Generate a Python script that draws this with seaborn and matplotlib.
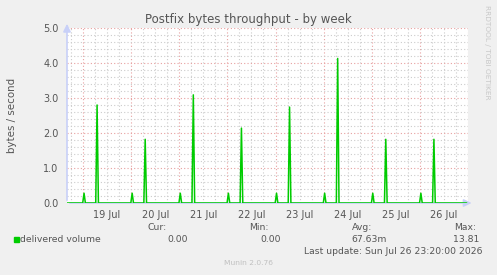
import pandas as pd
import seaborn as sns
import matplotlib.pyplot as plt
import matplotlib.dates as mdates
from matplotlib.ticker import MultipleLocator, FuncFormatter

# Spikes (time, bytes/second)
small_times = ["2026-07-19 00:30", "2026-07-20 00:30", "2026-07-21 00:30", "2026-07-22 00:30",
               "2026-07-23 00:30", "2026-07-24 00:30", "2026-07-25 00:30", "2026-07-26 00:30"]
small_values = [0.28, 0.28, 0.28, 0.28, 0.28, 0.28, 0.28, 0.28]
big_times = ["2026-07-19 07:00", "2026-07-20 07:00", "2026-07-21 07:00", "2026-07-22 07:00",
             "2026-07-23 07:00", "2026-07-24 07:00", "2026-07-25 07:00", "2026-07-26 07:00"]
big_values = [2.80, 1.82, 3.09, 2.14, 2.74, 4.13, 1.82, 1.82]

start = pd.Timestamp("2026-07-18 16:00")
end = pd.Timestamp("2026-07-27 00:00")
last = pd.Timestamp("2026-07-26 23:20")

# build the series: zero baseline with one sample per spike
rows = [(start, 0.0), (last, 0.0)]
half = pd.Timedelta(minutes=40)
for t, v in zip(small_times + big_times, small_values + big_values):
    t = pd.Timestamp(t)
    rows += [(t - half, 0.0), (t, v), (t + half, 0.0)]
df = pd.DataFrame(rows, columns=["time", "value"]).sort_values("time")

sns.set_style("white")
plt.rcParams["font.family"] = ["DejaVu Sans"]
txt = "#555555"
fs = 6.7

fig = plt.figure(figsize=(4.97, 2.75), dpi=100, facecolor="#f0f0f0")
ax = fig.add_axes([67 / 497, 1 - 203 / 275, (468 - 67) / 497, (203 - 28) / 275])
ax.set_facecolor("white")

sns.lineplot(data=df, x="time", y="value", ax=ax, color="#00cc00", linewidth=1.1,
             estimator=None, sort=True, zorder=5)

ax.set_xlim(start, end)
ax.set_ylim(0, 5.0)

# grid: red major, grey minor, dotted
ax.xaxis.set_major_locator(mdates.HourLocator(byhour=[0]))
ax.xaxis.set_minor_locator(mdates.HourLocator(byhour=[6, 12, 18]))
ax.xaxis.set_major_formatter(FuncFormatter(lambda x, p: ""))
ax.xaxis.set_minor_formatter(FuncFormatter(
    lambda x, p: mdates.num2date(x).strftime("%d %b") if mdates.num2date(x).hour == 12 else ""))
ax.yaxis.set_major_locator(MultipleLocator(1.0))
ax.yaxis.set_minor_locator(MultipleLocator(0.2))
ax.yaxis.set_major_formatter(FuncFormatter(lambda y, p: f"{y:.1f}"))

dots = (0, (1, 2))
ax.grid(which="major", color="#e8a0a0", linestyle=dots, linewidth=0.8)
ax.grid(which="minor", color="#cccccc", linestyle=dots, linewidth=0.8)
ax.set_axisbelow(True)

ax.tick_params(axis="x", which="major", length=2, color="#e8a0a0", labelsize=7.0)
ax.tick_params(axis="x", which="minor", length=2, color="#cccccc", labelsize=7.0,
               labelcolor=txt, pad=3)
ax.tick_params(axis="y", which="major", length=2, color="#e8a0a0", labelsize=7.0,
               labelcolor=txt, pad=4)
ax.tick_params(axis="y", which="minor", length=0)

for s in ax.spines.values():
    s.set_visible(False)
axis_col = "#c8d0f8"
ax.annotate("", xy=(0, 1.04), xytext=(0, 0), xycoords="axes fraction",
            arrowprops=dict(arrowstyle="-|>,head_length=0.45,head_width=0.22", color=axis_col, lw=1.2),
            annotation_clip=False)
ax.annotate("", xy=(1.016, 0), xytext=(0, 0), xycoords="axes fraction",
            arrowprops=dict(arrowstyle="-|>,head_length=0.45,head_width=0.22", color=axis_col, lw=1.2),
            annotation_clip=False)

ax.set_xlabel("")
ax.set_ylabel("")

W, H = 497, 275
def put(x, y, s, **kw):
    fig.text(x / W, 1 - y / H, s, **kw)

put(248, 20, "Postfix bytes throughput - by week", ha="center", va="center", fontsize=8.5, color=txt)
put(12, 115, "bytes / second", ha="center", va="center", rotation=90, fontsize=7.4, color=txt)
put(487, 5, "RRDTOOL / TOBI OETIKER", ha="center", va="top", rotation=270, fontsize=5.3, color="#c8c8c8")

put(167, 227, "Cur:", ha="right", va="center", fontsize=fs, color=txt)
put(269, 227, "Min:", ha="right", va="center", fontsize=fs, color=txt)
put(372, 227, "Avg:", ha="right", va="center", fontsize=fs, color=txt)
put(476, 227, "Max:", ha="right", va="center", fontsize=fs, color=txt)

fig.patches.append(plt.Rectangle((14 / W, 1 - 242 / H), 5 / W, 5 / H, transform=fig.transFigure,
                                 color="#00cc00"))
put(20, 239, "delivered volume", ha="left", va="center", fontsize=fs, color=txt)
put(188, 239, "0.00", ha="right", va="center", fontsize=fs, color=txt)
put(281, 239, "0.00", ha="right", va="center", fontsize=fs, color=txt)
put(387, 239, "67.63m", ha="right", va="center", fontsize=fs, color=txt)
put(479, 239, "13.81", ha="right", va="center", fontsize=fs, color=txt)
put(482, 251, "Last update: Sun Jul 26 23:20:00 2026", ha="right", va="center", fontsize=fs, color=txt)
put(248, 263, "Munin 2.0.76", ha="center", va="center", fontsize=5.4, color="#c0c0c0")

fig.savefig("out.png", dpi=100, facecolor=fig.get_facecolor())
